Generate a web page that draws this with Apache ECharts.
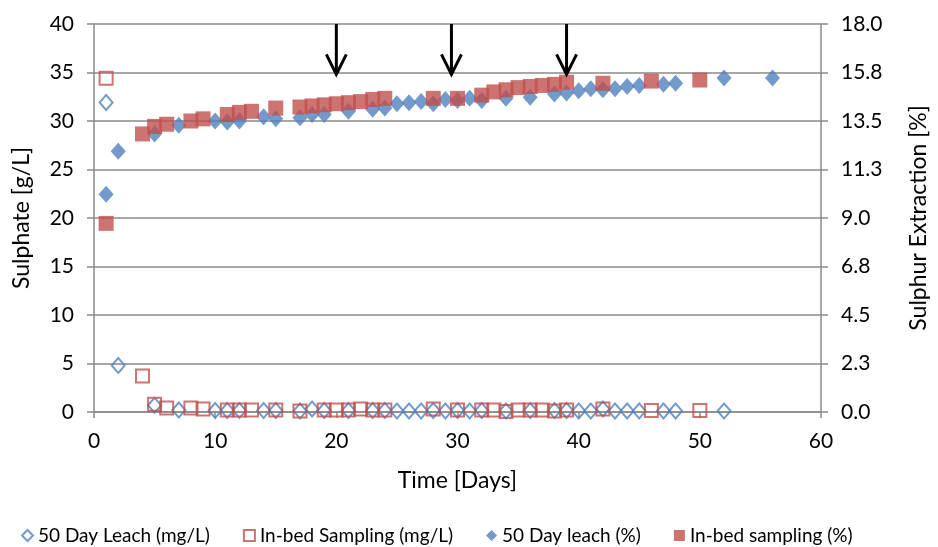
<!DOCTYPE html>
<html>
<head>
<meta charset="utf-8">
<script src="https://cdn.jsdelivr.net/npm/echarts@6/dist/echarts.min.js"></script>
<style>
html,body{margin:0;padding:0;background:#fff;}
#c{width:938px;height:547px;}
</style>
</head>
<body>
<div id="c"></div>
<script>
// ---- data ----
var leachMgDays = [1,2,5,7,10,11,12,14,15,17,18,19,21,23,24,25,26,27,28,29,30,31,32,34,36,38,39,40,41,42,43,44,45,47,48,52];
var leachMgVals = [31.9,4.8,0.7,0.2,0.15,0.15,0.15,0.15,0.15,0.1,0.3,0.15,0.15,0.15,0.15,0.1,0.1,0.1,0.15,0.1,0.15,0.1,0.15,0.1,0.15,0.15,0.15,0.1,0.1,0.3,0.1,0.1,0.1,0.1,0.1,0.1];

var bedMgDays = [1,4,5,6,8,9,11,12,13,15,17,19,20,21,22,23,24,28,30,32,33,34,35,36,37,38,39,42,46,50];
var bedMgVals = [34.4,3.7,0.8,0.4,0.4,0.3,0.2,0.2,0.2,0.2,0.1,0.2,0.2,0.2,0.3,0.2,0.2,0.3,0.2,0.2,0.2,0.05,0.2,0.2,0.2,0.1,0.2,0.3,0.15,0.15];

var leachPctDays = [1,2,5,7,10,11,12,14,15,17,18,19,21,23,24,25,26,27,28,29,30,31,32,34,36,38,39,40,41,42,43,44,45,47,48,52,56];
var leachPctVals = [10.1,12.1,12.9,13.3,13.5,13.45,13.5,13.7,13.6,13.65,13.8,13.8,13.95,14.05,14.1,14.3,14.35,14.4,14.3,14.5,14.45,14.55,14.45,14.55,14.6,14.75,14.8,14.9,15.0,14.95,15.0,15.1,15.15,15.2,15.25,15.5,15.5];

var bedPctDays = [1,4,5,6,8,9,11,12,13,15,17,18,19,20,21,22,23,24,28,30,32,33,34,35,36,37,38,39,42,46,50];
var bedPctVals = [8.75,12.9,13.25,13.35,13.5,13.6,13.8,13.9,13.95,14.1,14.15,14.2,14.25,14.3,14.35,14.4,14.5,14.55,14.55,14.55,14.7,14.85,14.95,15.05,15.1,15.15,15.2,15.3,15.25,15.35,15.4];

var arrowDays = [20, 29.5, 39];
var arrowTop = 40;
var arrowTip = 34.8;

var seriesNames = ['50 Day Leach (mg/L)','In-bed Sampling (mg/L)','50 Day leach (%)','In-bed sampling (%)'];
var rightTickLabels = ['0.0','2.3','4.5','6.8','9.0','11.3','13.5','15.8','18.0'];

function zip(a,b){ return a.map(function(d,i){ return [d,b[i]]; }); }

var BLUE = '#4F81BD', RED = '#C0504D', GRID = '#8a8a8a';
var FONT = 'Lato';

var chart = echarts.init(document.getElementById('c'), null, {renderer:'canvas'});
var option = {
  animation: false,
  textStyle: {fontFamily: FONT},
  grid: {left: 94, top: 24, width: 732, height: 388, containLabel: false},
  legend: {
    data: seriesNames,
    left: 16, top: 521,
    itemGap: 33, itemWidth: 11, itemHeight: 11,
    textStyle: {fontFamily: FONT, fontSize: 19, color: '#000'}
  },
  xAxis: {
    type: 'value', min: 0, max: 60, interval: 10,
    name: 'Time [Days]', nameLocation: 'middle', nameGap: 57,
    nameTextStyle: {fontFamily: FONT, fontSize: 23, color: '#000'},
    axisLine: {show: true, lineStyle: {color: GRID, width: 1.5}},
    axisTick: {show: true, length: 6, lineStyle: {color: GRID, width: 1.5}},
    axisLabel: {fontFamily: FONT, fontSize: 21, color: '#000', margin: 19},
    splitLine: {show: false}
  },
  yAxis: [{
    type: 'value', min: 0, max: 40, interval: 5, position: 'left',
    name: 'Sulphate [g/L]', nameLocation: 'middle', nameGap: 61, nameRotate: 90,
    nameTextStyle: {fontFamily: FONT, fontSize: 23, color: '#000'},
    axisLine: {show: true, lineStyle: {color: GRID, width: 1.5}},
    axisTick: {show: true, length: 7, lineStyle: {color: GRID, width: 1.5}},
    axisLabel: {fontFamily: FONT, fontSize: 21, color: '#000', margin: 20},
    splitLine: {show: true, lineStyle: {color: GRID, width: 1.5}}
  }, {
    type: 'value', min: 0, max: 18, interval: 2.25, position: 'right',
    name: 'Sulphur Extraction [%]', nameLocation: 'middle', nameGap: 86, nameRotate: 90,
    nameTextStyle: {fontFamily: FONT, fontSize: 23, color: '#000'},
    axisLine: {show: true, lineStyle: {color: GRID, width: 1.5}},
    axisTick: {show: true, length: 7, lineStyle: {color: GRID, width: 1.5}},
    axisLabel: {fontFamily: FONT, fontSize: 21, color: '#000', margin: 20,
      formatter: function(v){ var i = Math.round(v/2.25); return rightTickLabels[i] !== undefined ? rightTickLabels[i] : v.toFixed(1); }},
    splitLine: {show: false}
  }],
  series: [{
    name: seriesNames[0], type: 'scatter', yAxisIndex: 0,
    symbol: 'diamond', symbolSize: [13, 15],
    itemStyle: {color: 'rgba(255,255,255,0)', borderColor: BLUE, borderWidth: 2},
    data: zip(leachMgDays, leachMgVals), z: 2
  }, {
    name: seriesNames[1], type: 'scatter', yAxisIndex: 0,
    symbol: 'rect', symbolSize: 13,
    itemStyle: {color: 'rgba(255,255,255,0)', borderColor: RED, borderWidth: 2},
    data: zip(bedMgDays, bedMgVals), z: 3
  }, {
    name: seriesNames[2], type: 'scatter', yAxisIndex: 1,
    symbol: 'diamond', symbolSize: [15, 17],
    itemStyle: {color: BLUE},
    data: zip(leachPctDays, leachPctVals), z: 4
  }, {
    name: seriesNames[3], type: 'scatter', yAxisIndex: 1,
    symbol: 'rect', symbolSize: 15,
    itemStyle: {color: RED},
    data: zip(bedPctDays, bedPctVals), z: 5
  }, {
    type: 'custom', yAxisIndex: 0, z: 10, silent: true,
    data: arrowDays.map(function(d){ return [d, arrowTop, arrowTip]; }),
    renderItem: function(params, api){
      var p0 = api.coord([api.value(0), api.value(1)]);
      var p1 = api.coord([api.value(0), api.value(2)]);
      var hw = 10, hh = 20;
      var st = {stroke: '#000', lineWidth: 3, fill: null};
      return {type: 'group', children: [
        {type: 'line', shape: {x1: p0[0], y1: p0[1], x2: p1[0], y2: p1[1]}, style: st},
        {type: 'polyline', shape: {points: [[p1[0]-hw, p1[1]-hh],[p1[0], p1[1]],[p1[0]+hw, p1[1]-hh]]}, style: st}
      ]};
    }
  }]
};
chart.setOption(option);
</script>
</body>
</html>
